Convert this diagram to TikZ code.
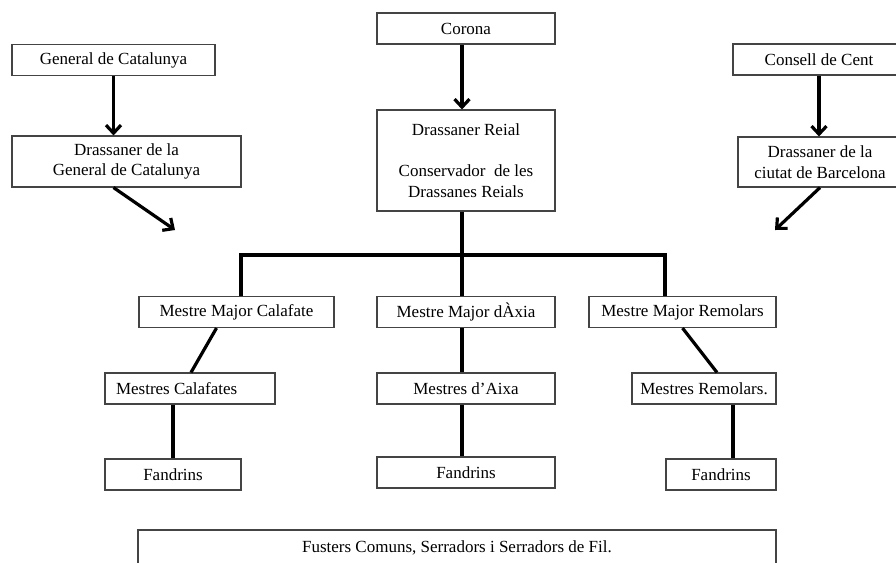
\documentclass[tikz,border=0pt]{standalone}
\usepackage{fontspec}
\setmainfont{Liberation Serif}
\usepackage{xcolor}
\usepackage{tikz}
\usetikzlibrary{arrows.meta,positioning}
\definecolor{boxline}{HTML}{444444}

\begin{document}
\begin{tikzpicture}[
  x=1pt, y=-1pt,
  unit/.style={draw=boxline, line width=1.1pt, minimum height=31pt, inner sep=0pt, align=center, font=\fontsize{17}{20.5}\selectfont},
  arr/.style ={-{Straight Barb[length=8pt,width=15pt]}, line width=3.2pt, black},
  link/.style={line width=3.2pt, black},
]
  \clip (0,0) rectangle (896,562);

  % top row
  \node[unit, minimum width=203pt]                    (gen)     at (113.5,60)   {General de Catalunya};
  \node[unit, minimum width=229pt, minimum height=51pt] (drgen) at (126.5,161.5) {Drassaner de la\\General de Catalunya};
  \node[unit, minimum width=178pt]                    (corona)  at (466,28.5)   {Corona};
  \node[unit, minimum width=178pt, minimum height=101pt] (reial) at (466,160.5) {Drassaner Reial\\ \\Conservador\ \ de les\\Drassanes Reials};
  \node[unit, minimum width=172pt]                    (consell) at (819,59.5)   {Consell de Cent};
  \node[unit, minimum width=164pt, minimum height=50pt] (drbcn) at (820,162)    {Drassaner de la\\ciutat de Barcelona};

  % masters
  \node[unit, minimum width=195pt] (mmcal) at (236.5,312) {Mestre Major Calafate};
  \node[unit, minimum width=178pt] (mmaix) at (466,312)   {Mestre Major dÀxia};
  \node[unit, minimum width=187pt] (mmrem) at (682.5,312) {Mestre Major Remolars};

  \node[unit, minimum width=170pt] (mcal) at (190,388.5) {\makebox[148pt][l]{Mestres Calafates}};
  \node[unit, minimum width=178pt] (maix) at (466,388.5) {Mestres d’Aixa};
  \node[unit, minimum width=144pt] (mrem) at (704,388.5) {Mestres Remolars.};

  \node[unit, minimum width=136pt] (fan1) at (173,474.5) {Fandrins};
  \node[unit, minimum width=178pt] (fan2) at (466,472.5) {Fandrins};
  \node[unit, minimum width=110pt] (fan3) at (721,474.5) {Fandrins};

  \node[unit, minimum width=638pt, minimum height=36pt] (fusters) at (457,548) {Fusters Comuns, Serradors i Serradors de Fil.};

  % free ends and bus
  \coordinate (gtip) at (175,230);
  \coordinate (btip) at (775,230);
  \coordinate (bus)  at (462,255);
  \coordinate (busl) at (241,255);
  \coordinate (busr) at (665,255);

  \draw[arr] (gen.south) -- (gen.south |- drgen.north);
  \draw[arr] (corona.south -| bus) -- (reial.north -| bus);
  \draw[arr] (consell.south) -- (consell.south |- drbcn.north);
  \draw[arr] (gen.south |- drgen.south) -- (gtip);
  \draw[arr] (drbcn.south) -- (btip);

  \draw[link] (reial.south -| bus) -- (mmaix.north -| bus);
  \draw[link] (mmcal.north -| busl) -- (busl) -- (busr) -- (mmrem.north -| busr);

  \draw[link] ([xshift=-20pt]mmcal.south) -- ([xshift=1pt]mcal.north);
  \draw[link] (mmaix.south -| bus) -- (maix.north -| bus);
  \draw[link] (mmrem.south) -- ([xshift=13pt]mrem.north);

  \draw[link] (mcal.south -| fan1) -- (fan1.north);
  \draw[link] (maix.south -| bus) -- (fan2.north -| bus);
  \draw[link] ([xshift=12pt]fan3.north |- mrem.south) -- ([xshift=12pt]fan3.north);
\end{tikzpicture}
\end{document}
